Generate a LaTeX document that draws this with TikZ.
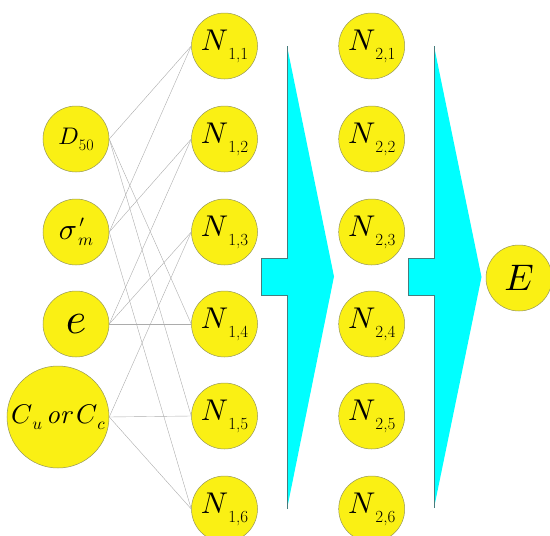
\documentclass[tikz,border=0pt]{standalone}
\usepackage{graphicx}
\definecolor{nodeyellow}{RGB}{250,240,20}
\definecolor{nodeedge}{RGB}{150,150,90}
\definecolor{arrowcyan}{RGB}{0,255,255}
\definecolor{arrowedge}{RGB}{70,125,125}
\newcommand{\scmath}[2]{\scalebox{#1}{$#2$}}
\newcommand{\Nlab}[1]{\scmath{3.0}{N}\raisebox{-9pt}{\fontsize{17}{17}\selectfont #1}}
\begin{document}
\begin{tikzpicture}[x=1pt,y=-1pt,
  neuron/.style={circle, draw=nodeedge, line width=0.5pt, fill=nodeyellow, minimum size=66pt, inner sep=0pt},
  bigneuron/.style={neuron, minimum size=102pt},
  link/.style={draw=gray!65, line width=0.4pt},
  flow/.style={fill=arrowcyan},
  flowedge/.style={draw=arrowedge, line width=0.6pt}]
\useasboundingbox (0,0) rectangle (550,536);
\clip (0,0) rectangle (550,536);
% flow arrows
\fill[flow] (261.7,258) -- (287,258) -- (287,46) -- (334,276.5) -- (287,509) -- (287,295) -- (261.7,295) -- cycle;
\draw[flowedge] (287,46) -- (287,258) -- (261.7,258) -- (261.7,295) -- (287,295) -- (287,509);
\fill[flow] (408,258) -- (434,258) -- (434,46) -- (481.5,277) -- (434,508) -- (434,295) -- (408,295) -- cycle;
\draw[flowedge] (434,46) -- (434,258) -- (408,258) -- (408,295) -- (434,295) -- (434,508);
% inputs
\node[neuron] (d50) at (76,139) {\scmath{2.4}{D}\raisebox{-6pt}{\fontsize{16}{16}\selectfont 50}};
\node[neuron] (sig) at (76,232) {\scmath{3.0}{\sigma}\hspace{1pt}\raisebox{-6pt}{\scmath{1.7}{m}}\llap{\raisebox{12pt}{\scmath{1.7}{\prime}}\hspace{9pt}}};
\node[neuron] (e) at (76,324) {\scmath{4.4}{e}};
\node[bigneuron] (cu) at (58,417) {\scmath{2.7}{C}\raisebox{-6pt}{\scmath{1.7}{u}}\hspace{4pt}\scmath{2.7}{\mathit{or}}\hspace{2pt}\scmath{2.7}{C}\raisebox{-6pt}{\scmath{1.7}{c}}};
% hidden layers
\foreach \i/\y in {1/46,2/139,3/232,4/324,5/416,6/509}{
  \node[neuron] (n1\i) at (224.5,\y) {\Nlab{1,\i}};
  \node[neuron] (n2\i) at (371.7,\y) {\Nlab{2,\i}};
}
% output
\node[neuron] (out) at (519,278) {\scmath{3.7}{E}};
% connections
\foreach \a/\b in {d50/n11,d50/n14,d50/n15,sig/n11,sig/n12,sig/n16,e/n12,e/n13,e/n14,cu/n13,cu/n15,cu/n16}{
  \draw[link] (\a.east) -- (\b.west);
}
\end{tikzpicture}
\end{document}
